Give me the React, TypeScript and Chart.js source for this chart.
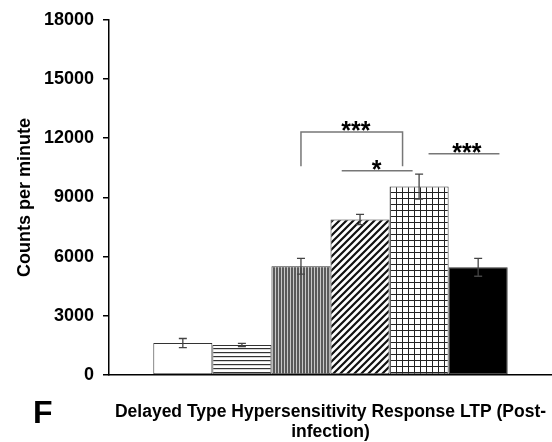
import React, { useEffect, useRef } from "react";
import { Chart, registerables } from "chart.js";

Chart.register(...registerables);

const categories = ["DTH LTP (Post-infection)"];
const seriesNames = ["Group 1", "Group 2", "Group 3", "Group 4", "Group 5", "Group 6"];
const means = [1620, 1520, 5510, 7880, 9550, 5460];
const errors = [230, 85, 400, 260, 630, 455];
const yTicks = [0, 3000, 6000, 9000, 12000, 15000, 18000];

const sigLabels = ["***", "*", "***"];
const sigStart = [2, 2.69, 4.16];
const sigEnd = [3.72, 3.89, 5.36];
const sigLabelPos = [2.93, 3.28, 4.81];
const sigLevel = [12320, 10350, 11210];
const sigLegEnd = [10580, null, null];

const yTitle = "Counts per minute";
const xTitleLines = ["Delayed Type Hypersensitivity Response LTP (Post-", "infection)"];
const panelLetter = "F";

const FONT = '"Liberation Sans", Arial, Helvetica, sans-serif';

function makePattern(w: number, h: number, draw: (c: CanvasRenderingContext2D) => void) {
  const cv = document.createElement("canvas");
  cv.width = w;
  cv.height = h;
  const c = cv.getContext("2d")!;
  draw(c);
  return c.createPattern(cv, "repeat")!;
}

function buildFills() {
  const horiz = makePattern(4, 4, (c) => {
    c.fillStyle = "#fff";
    c.fillRect(0, 0, 4, 4);
    c.fillStyle = "#333";
    c.fillRect(0, 0, 4, 1.2);
  });
  const vert = makePattern(3, 3, (c) => {
    c.fillStyle = "#c8c8c8";
    c.fillRect(0, 0, 3, 3);
    c.fillStyle = "#5a5a5a";
    c.fillRect(0, 0, 2, 3);
  });
  const diag = makePattern(7, 7, (c) => {
    c.fillStyle = "#fff";
    c.fillRect(0, 0, 7, 7);
    c.strokeStyle = "#111";
    c.lineWidth = 2.2;
    c.beginPath();
    c.moveTo(-1, 8);
    c.lineTo(8, -1);
    c.moveTo(-4, 4);
    c.lineTo(4, -4);
    c.moveTo(3, 11);
    c.lineTo(11, 3);
    c.stroke();
  });
  const grid = makePattern(6, 6, (c) => {
    c.fillStyle = "#fff";
    c.fillRect(0, 0, 6, 6);
    c.fillStyle = "#222";
    c.fillRect(0, 0, 6, 1);
    c.fillRect(0, 0, 1, 6);
  });
  return ["#ffffff", horiz, vert, diag, grid, "#000000"];
}

const overlayPlugin = {
  id: "overlay",
  afterDatasetsDraw(chart: any) {
    const ctx = chart.ctx as CanvasRenderingContext2D;
    const ys = chart.scales.y;
    const centers: number[] = [];
    chart.data.datasets.forEach((_: any, i: number) => {
      const el = chart.getDatasetMeta(i).data[0];
      centers.push(el.x);
    });
    const step = centers[1] - centers[0];
    const xAt = (idx: number) => centers[0] + idx * step;

    ctx.save();
    // error bars
    ctx.strokeStyle = "#444";
    ctx.lineWidth = 1.3;
    means.forEach((m, i) => {
      const x = centers[i];
      const t = ys.getPixelForValue(m + errors[i]);
      const b = ys.getPixelForValue(m - errors[i]);
      ctx.beginPath();
      ctx.moveTo(x, t);
      ctx.lineTo(x, b);
      ctx.moveTo(x - 4, t);
      ctx.lineTo(x + 4, t);
      ctx.moveTo(x - 4, b);
      ctx.lineTo(x + 4, b);
      ctx.stroke();
    });

    // significance markers
    ctx.strokeStyle = "#777";
    ctx.lineWidth = 1.5;
    ctx.fillStyle = "#000";
    ctx.font = `bold 25px ${FONT}`;
    ctx.textAlign = "center";
    ctx.textBaseline = "alphabetic";
    sigLabels.forEach((lab, i) => {
      const x1 = xAt(sigStart[i]);
      const x2 = xAt(sigEnd[i]);
      const y = ys.getPixelForValue(sigLevel[i]);
      ctx.beginPath();
      const leg = sigLegEnd[i];
      if (leg != null) {
        const yl = ys.getPixelForValue(leg);
        ctx.moveTo(x1, yl);
        ctx.lineTo(x1, y);
        ctx.lineTo(x2, y);
        ctx.lineTo(x2, yl);
      } else {
        ctx.moveTo(x1, y);
        ctx.lineTo(x2, y);
      }
      ctx.stroke();
      ctx.fillText(lab, xAt(sigLabelPos[i]), y + 7);
    });
    ctx.restore();
  },
  afterDraw(chart: any) {
    const ctx = chart.ctx as CanvasRenderingContext2D;
    const area = chart.chartArea;
    ctx.save();
    ctx.fillStyle = "#000";
    // y title
    ctx.font = `bold 18px ${FONT}`;
    ctx.textAlign = "center";
    ctx.textBaseline = "middle";
    ctx.translate(25, (area.top + area.bottom) / 2);
    ctx.rotate(-Math.PI / 2);
    ctx.fillText(yTitle, 0, 0);
    ctx.restore();

    ctx.save();
    ctx.fillStyle = "#000";
    ctx.textAlign = "center";
    ctx.textBaseline = "alphabetic";
    ctx.font = `bold 17.5px ${FONT}`;
    const cx = (area.left + area.right) / 2;
    xTitleLines.forEach((ln, i) => {
      ctx.fillText(ln, cx, area.bottom + 42 + i * 20);
    });
    ctx.textAlign = "left";
    ctx.font = `bold 32px ${FONT}`;
    ctx.fillText(panelLetter, 33, area.bottom + 48);
    ctx.restore();
  },
};

export default function App() {
  const ref = useRef<HTMLCanvasElement | null>(null);
  useEffect(() => {
    if (!ref.current) return;
    const fills = buildFills();
    const chart = new Chart(ref.current, {
      type: "bar",
      data: {
        labels: categories,
        datasets: seriesNames.map((name, i) => ({
          label: name,
          data: [means[i]],
          backgroundColor: fills[i] as any,
          borderColor: "#333",
          borderWidth: 1,
          borderSkipped: false,
          categoryPercentage: 0.8,
          barPercentage: 1.0,
        })),
      },
      options: {
        animation: false,
        responsive: true,
        maintainAspectRatio: false,
        layout: { padding: { top: 19, left: 0, right: 0, bottom: 0 } },
        plugins: {
          legend: { display: false },
          tooltip: { enabled: false },
          title: { display: false },
        },
        scales: {
          x: {
            type: "category",
            ticks: { display: false },
            grid: { display: false },
            border: { display: true, color: "#000", width: 1.5 },
            afterFit: (s: any) => {
              s.height = 67;
            },
          },
          y: {
            min: 0,
            max: 18000,
            afterBuildTicks: (s: any) => {
              s.ticks = yTicks.map((v) => ({ value: v }));
            },
            ticks: {
              callback: (v: any) => String(v),
              color: "#000",
              font: { family: FONT, size: 18, weight: "bold" },
              padding: 9,
            },
            grid: {
              display: true,
              drawOnChartArea: false,
              drawTicks: true,
              tickLength: 6,
              color: "#000",
              lineWidth: 1.5,
            },
            border: { display: true, color: "#000", width: 1.5 },
            afterFit: (s: any) => {
              s.width = 109;
            },
          },
        },
      },
      plugins: [overlayPlugin],
    });
    return () => chart.destroy();
  }, []);
  return (
    <div style={{ position: "absolute", left: 0, top: 0, width: 552, height: 442, background: "#fff" }}>
      <canvas ref={ref} />
    </div>
  );
}
